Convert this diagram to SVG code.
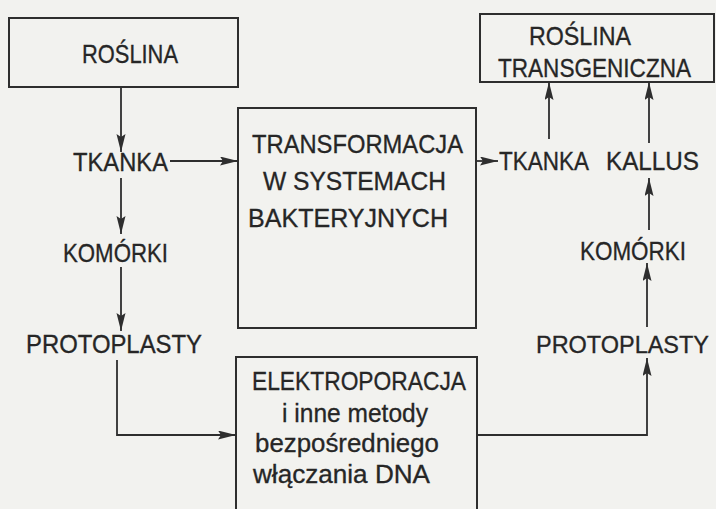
<svg xmlns="http://www.w3.org/2000/svg" width="716" height="509" viewBox="0 0 716 509">
<style>
.bg{fill:#f2f2ef}
.box{fill:none;stroke:#2e2e2e;stroke-width:2}
.ln{fill:none;stroke:#2e2e2e;stroke-width:1.8;marker-end:url(#ah)}
text{font-family:"Liberation Sans","DejaVu Sans",sans-serif;font-size:25px;fill:#262626;stroke:#262626;stroke-width:0.3}
</style>
<defs>
<marker id="ah" markerUnits="userSpaceOnUse" markerWidth="20" markerHeight="10" refX="18" refY="4.5" orient="auto">
<path d="M0,0 L18,4.5 L0,9 L3,4.5 z" fill="#2e2e2e"/>
</marker>
</defs>
<rect class="bg" x="0" y="0" width="716" height="509"/>

<g id="roslina">
<rect class="box" x="9" y="18" width="229" height="69"/>
<text x="82" y="63" textLength="96" lengthAdjust="spacingAndGlyphs">ROŚLINA</text>
</g>
<g id="tkanka-l"><text x="73" y="171" textLength="95" lengthAdjust="spacingAndGlyphs">TKANKA</text></g>
<g id="komorki-l"><text x="63" y="262" textLength="105" lengthAdjust="spacingAndGlyphs">KOMÓRKI</text></g>
<g id="protoplasty-l"><text x="26" y="353" textLength="176" lengthAdjust="spacingAndGlyphs">PROTOPLASTY</text></g>

<g id="transformacja">
<rect class="box" x="238" y="108" width="238" height="220"/>
<text x="252" y="153" textLength="211" lengthAdjust="spacingAndGlyphs">TRANSFORMACJA</text>
<text x="263" y="190" textLength="183" lengthAdjust="spacingAndGlyphs">W SYSTEMACH</text>
<text x="248" y="227" textLength="200" lengthAdjust="spacingAndGlyphs">BAKTERYJNYCH</text>
</g>

<g id="elektroporacja">
<rect class="box" x="236" y="357" width="241" height="160"/>
<text x="252" y="390" textLength="214" lengthAdjust="spacingAndGlyphs">ELEKTROPORACJA</text>
<text x="282" y="422" textLength="146" lengthAdjust="spacingAndGlyphs">i inne metody</text>
<text x="255" y="452" textLength="184" lengthAdjust="spacingAndGlyphs">bezpośredniego</text>
<text x="253" y="483" textLength="177" lengthAdjust="spacingAndGlyphs">włączania DNA</text>
</g>

<g id="roslina-transgeniczna">
<rect class="box" x="480" y="14" width="234" height="68"/>
<text x="529" y="45" textLength="102" lengthAdjust="spacingAndGlyphs">ROŚLINA</text>
<text x="498" y="77" textLength="193" lengthAdjust="spacingAndGlyphs">TRANSGENICZNA</text>
</g>
<g id="tkanka-r"><text x="499" y="170" textLength="90" lengthAdjust="spacingAndGlyphs">TKANKA</text></g>
<g id="kallus"><text x="606" y="170" textLength="93" lengthAdjust="spacingAndGlyphs">KALLUS</text></g>
<g id="komorki-r"><text x="580" y="260" textLength="106" lengthAdjust="spacingAndGlyphs">KOMÓRKI</text></g>
<g id="protoplasty-r"><text x="536" y="353" font-size="23" style="font-size:23px" textLength="173" lengthAdjust="spacingAndGlyphs">PROTOPLASTY</text></g>

<g id="connectors">
<path class="ln" d="M121,87 V152"/>
<path class="ln" d="M121,178 V234"/>
<path class="ln" d="M121,267 V331"/>
<path class="ln" d="M117,360 V435 H236"/>
<path class="ln" d="M170,161 H238"/>
<path class="ln" d="M476,161 H498"/>
<path class="ln" d="M549,139 V82"/>
<path class="ln" d="M649,143 V82"/>
<path class="ln" d="M649,230 V178"/>
<path class="ln" d="M647,327 V263"/>
<path class="ln" d="M477,435 H647 V358"/>
</g>
</svg>
